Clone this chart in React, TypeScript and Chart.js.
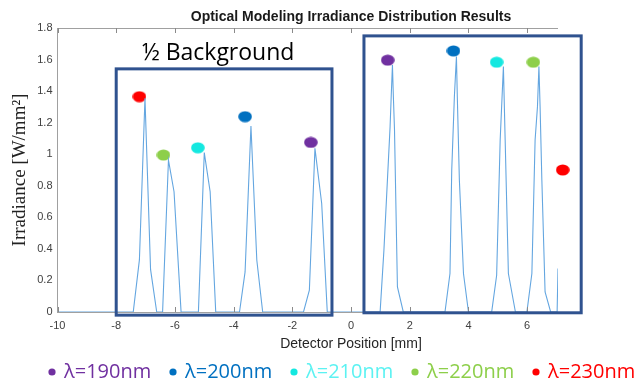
import React, { useEffect, useRef } from "react";
import { Chart, registerables } from "chart.js";

Chart.register(...registerables);

// ---- data ----
const positions = [
  -10, -7.42, -7.21, -7.02, -6.83, -6.62,
  -6.42, -6.22, -6.03, -5.79,
  -5.2, -5.0, -4.8, -4.61,
  -3.8, -3.61, -3.41, -3.21, -3.01,
  -1.62, -1.42, -1.23, -1.0, -0.81,
  0.99, 1.12, 1.33, 1.37, 1.41, 1.44, 1.48, 1.58, 1.78,
  3.2, 3.37, 3.43, 3.52, 3.59, 3.62, 3.69, 3.83, 4.0,
  4.79, 4.96, 5.08, 5.19, 5.25, 5.36, 5.6,
  5.99, 6.16, 6.27, 6.35, 6.4, 6.44, 6.5, 6.61, 6.8,
  7.02, 7.05,
];
const irradiance = [
  0, 0, 0.33, 1.355, 0.27, 0,
  0, 0.963, 0.762, 0,
  0, 1.01, 0.762, 0,
  0, 0.254, 1.179, 0.328, 0,
  0, 0.138, 1.037, 0.688, 0,
  0, 0.392, 1.175, 1.376, 1.566, 1.376, 1.156, 0.159, 0,
  0, 0.244, 0.9, 1.365, 1.619, 1.365, 0.836, 0.244, 0,
  0, 0.233, 1.09, 1.556, 1.09, 0.244, 0,
  0, 0.244, 1.09, 1.3, 1.556, 1.3, 0.836, 0.127, 0,
  0, 0.276,
];

// colored markers (wavelength labels)
const markerX = [-7.21, -6.39, -5.22, -3.61, -1.37, 1.25, 3.49, 4.96, 6.21, 7.21];
const markerY = [1.365, 0.995, 1.041, 1.238, 1.075, 1.596, 1.655, 1.583, 1.583, 0.9];
const markerWavelength = [230, 220, 210, 200, 190, 190, 200, 210, 220, 230];

const legendWavelengths = [190, 200, 210, 220, 230];
const markerColors: Record<number, string> = {
  190: "#7030A0",
  200: "#0070C0",
  210: "#14E8E0",
  220: "#8DCF4A",
  230: "#FF0000",
};
const legendTextColors: Record<number, string> = {
  190: "#7030A0",
  200: "#0070C0",
  210: "#5CF2F2",
  220: "#8DCF4A",
  230: "#FF0000",
};

const xTickValues = [-10, -8, -6, -4, -2, 0, 2, 4, 6];
const yTickValues = [0, 0.2, 0.4, 0.6, 0.8, 1, 1.2, 1.4, 1.6, 1.8];
const yTickLabels = ["0", "0.2", "0.4", "0.6", "0.8", "1", "1.2", "1.4", "1.6", "1.8"];

// annotation boxes in data coordinates [x0, y0, x1, y1]
const boxBackground = [-8, -0.02, -0.65, 1.541];
const boxSignal = [0.44, -0.005, 7.84, 1.75];

const titleText = "Optical Modeling Irradiance Distribution Results";
const xTitleText = "Detector Position [mm]";
const yTitleText = "Irradiance [W/mm²]";
const boxLabelText = "½ Background";

function ellipseMarker(color: string) {
  const c = document.createElement("canvas");
  c.width = 14;
  c.height = 12;
  const g = c.getContext("2d")!;
  g.fillStyle = color;
  g.beginPath();
  g.ellipse(7, 6, 6.8, 5.6, 0, 0, Math.PI * 2);
  g.fill();
  return c;
}

const overlayPlugin = {
  id: "overlay",
  afterDatasetsDraw(chart: any) {
    const { ctx, chartArea, scales } = chart;
    const xs = scales.x;
    const ys = scales.y;
    ctx.save();
    // top axis line
    ctx.strokeStyle = "#a0a0a0";
    ctx.lineWidth = 1;
    ctx.beginPath();
    ctx.moveTo(chartArea.left, chartArea.top + 0.5);
    ctx.lineTo(chartArea.right, chartArea.top + 0.5);
    ctx.stroke();
    // inward tick marks on top and bottom
    ctx.strokeStyle = "#8a8a8a";
    xTickValues.forEach((v) => {
      const px = Math.round(xs.getPixelForValue(v)) + 0.5;
      ctx.beginPath();
      ctx.moveTo(px, chartArea.top);
      ctx.lineTo(px, chartArea.top + 5);
      ctx.moveTo(px, chartArea.bottom);
      ctx.lineTo(px, chartArea.bottom - 5);
      ctx.stroke();
    });
    // boxes
    ctx.strokeStyle = "#2F528F";
    ctx.lineWidth = 3;
    [boxBackground, boxSignal].forEach((b) => {
      const x0 = xs.getPixelForValue(b[0]);
      const x1 = xs.getPixelForValue(b[2]);
      const y0 = ys.getPixelForValue(b[1]);
      const y1 = ys.getPixelForValue(b[3]);
      ctx.strokeRect(x0, y1, x1 - x0, y0 - y1);
    });
    // box label
    ctx.fillStyle = "#000";
    ctx.font = "23px 'Open Sans', sans-serif";
    ctx.textAlign = "left";
    ctx.textBaseline = "alphabetic";
    ctx.fillText(boxLabelText, 142, 60);
    // title
    ctx.font = "bold 14px 'Liberation Sans', Arial, sans-serif";
    ctx.fillStyle = "#1a1a1a";
    ctx.textAlign = "center";
    ctx.fillText(titleText, 351, 21);
    // x axis title
    ctx.font = "14px 'Liberation Sans', Arial, sans-serif";
    ctx.fillStyle = "#262626";
    ctx.fillText(xTitleText, 351, 348);
    // legend
    ctx.font = "20px 'Open Sans', sans-serif";
    ctx.textAlign = "left";
    legendWavelengths.forEach((w, i) => {
      const cx = 52 + i * 121;
      ctx.fillStyle = markerColors[w];
      ctx.beginPath();
      ctx.arc(cx, 372, 3.6, 0, Math.PI * 2);
      ctx.fill();
      ctx.fillStyle = legendTextColors[w];
      ctx.fillText("λ=" + w + "nm", cx + 12, 378);
    });
    ctx.restore();
  },
};

export default function App() {
  const ref = useRef<HTMLCanvasElement | null>(null);
  useEffect(() => {
    if (!ref.current) return;
    const lineData = positions.map((x, i) => ({ x, y: irradiance[i] }));
    const markerSets = legendWavelengths.map((w) => ({
      type: "scatter" as const,
      label: "λ=" + w + "nm",
      data: markerX
        .map((x, i) => ({ x, y: markerY[i], w: markerWavelength[i] }))
        .filter((p) => p.w === w)
        .map((p) => ({ x: p.x, y: p.y })),
      backgroundColor: markerColors[w],
      borderColor: markerColors[w],
      pointStyle: ellipseMarker(markerColors[w]) as any,
      pointRadius: 6.5,
      pointHoverRadius: 6.5,
      borderWidth: 0,
      showLine: false,
      clip: false as any,
    }));
    const chart = new Chart(ref.current, {
      type: "scatter",
      data: {
        datasets: [
          {
            label: "Irradiance",
            data: lineData,
            showLine: true,
            borderColor: "#64A6E0",
            backgroundColor: "#64A6E0",
            borderWidth: 1.1,
            pointRadius: 0,
            tension: 0,
          } as any,
          ...markerSets,
        ],
      },
      options: {
        animation: false,
        responsive: true,
        maintainAspectRatio: false,
        layout: { padding: { left: 0, top: 28, right: 85, bottom: 0 } },
        plugins: {
          legend: { display: false },
          title: { display: false },
          tooltip: { enabled: false },
        },
        scales: {
          x: {
            type: "linear",
            min: -10,
            max: 7.05,
            afterBuildTicks: (s: any) => {
              s.ticks = xTickValues.map((v) => ({ value: v }));
            },
            afterFit: (s: any) => {
              s.height = 75;
            },
            grid: { display: false, drawTicks: false },
            border: { display: true, color: "#a0a0a0", width: 1 },
            ticks: {
              color: "#404040",
              padding: 7,
              maxRotation: 0,
              font: { family: "'Liberation Sans', Arial, sans-serif", size: 11 },
            },
          },
          y: {
            type: "linear",
            min: 0,
            max: 1.8,
            afterBuildTicks: (s: any) => {
              s.ticks = yTickValues.map((v) => ({ value: v }));
            },
            afterFit: (s: any) => {
              s.width = 57.5;
            },
            grid: { display: false, drawTicks: false },
            border: { display: true, color: "#a0a0a0", width: 1 },
            ticks: {
              color: "#404040",
              padding: 5,
              font: { family: "'Liberation Sans', Arial, sans-serif", size: 11 },
              callback: (v: any) => {
                const i = yTickValues.findIndex((t) => Math.abs(t - Number(v)) < 1e-6);
                return i >= 0 ? yTickLabels[i] : "";
              },
            },
            title: {
              display: true,
              text: yTitleText,
              color: "#222",
              font: { family: "'Liberation Serif', 'DejaVu Serif', serif", size: 19 },
              padding: { top: 9, bottom: 0 },
            },
          },
        },
      },
      plugins: [overlayPlugin],
    });
    return () => chart.destroy();
  }, []);
  return (
    <div style={{ position: "fixed", left: 0, top: 0, width: 643, height: 387, background: "#fff" }}>
      <canvas ref={ref} />
    </div>
  );
}
